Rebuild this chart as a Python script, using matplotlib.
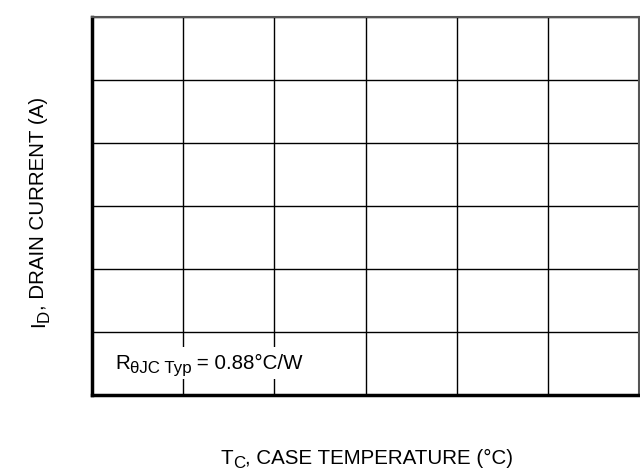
import matplotlib
matplotlib.use("Agg")
import matplotlib.pyplot as plt
from matplotlib.patches import Rectangle

plt.rcParams['font.family'] = ['Liberation Sans', 'DejaVu Sans']

# Grid divisions (no tick labels shown in the reference)
x_ticks = [0, 1, 2, 3, 4, 5, 6]
y_ticks = [0, 1, 2, 3, 4, 5, 6]
# text pieces: (string, is_subscript)
x_label = [('T', False), ('C', True), (', CASE TEMPERATURE (°C)', False)]
y_label = [('I', False), ('D', True), (', DRAIN CURRENT (A)', False)]
note = [('R', False), ('θJC Typ', True), (' = 0.88°C/W', False)]

W, H = 640, 476
FS = 14.8
SUB = 0.82
SHIFT = 4.5  # px baseline drop of subscript

fig = plt.figure(figsize=(W / 100, H / 100), dpi=100)
ax = fig.add_axes([92 / W, 1 - 395 / H, (639 - 92) / W, (395 - 17) / H])
ax.set_xlim(x_ticks[0], x_ticks[-1])
ax.set_ylim(y_ticks[0], y_ticks[-1])
ax.set_xticks(x_ticks)
ax.set_yticks(y_ticks)
ax.tick_params(length=0, labelbottom=False, labelleft=False)
ax.grid(True, color='black', linewidth=1.0)
ax.set_axisbelow(True)
for s in ['left', 'bottom']:
    ax.spines[s].set_linewidth(2.5)
    ax.spines[s].set_color('black')
for s in ['top', 'right']:
    ax.spines[s].set_linewidth(1.5)
    ax.spines[s].set_color('#555555')

renderer = fig.canvas.get_renderer()


def rich_text(parts, x0, y0, rotation=0, align='left'):
    """Draw text pieces with subscripts; x0,y0 in pixels from top-left.
    For rotation=90, text runs upward from (x0, y0) (baseline at x0)."""
    arts = []
    lengths = []
    for s, sub in parts:
        t = fig.text(0, 0, s, fontsize=FS * (SUB if sub else 1.0),
                     ha='left', va='baseline', rotation=rotation,
                     rotation_mode='anchor', zorder=5)
        bb = t.get_window_extent(renderer)
        lengths.append(bb.height if rotation == 90 else bb.width)
        arts.append(t)
    total = sum(lengths)
    if align == 'center':
        start = (x0 - total / 2) if rotation == 0 else (y0 + total / 2)
    else:
        start = x0 if rotation == 0 else y0
    pos = start
    for t, L, (s, sub) in zip(arts, lengths, parts):
        if rotation == 0:
            px, py = pos, y0 + (SHIFT if sub else 0)
            pos += L
        else:
            px, py = x0 + (SHIFT if sub else 0), pos
            pos -= L
        t.set_position((px / W, 1 - py / H))
    return arts, start, total


# annotation with white background
arts, start, total = rich_text(note, 115, 369)
pad = 4
fig.patches.append(Rectangle(((start - pad) / W, 1 - 379 / H), (total + 2 * pad) / W,
                             (379 - 347) / H, transform=fig.transFigure,
                             facecolor='white', edgecolor='none', zorder=4))

rich_text(x_label, 367, 464, align='center')
rich_text(y_label, 44, 212, rotation=90, align='center')

fig.savefig('out.png', dpi=100)
